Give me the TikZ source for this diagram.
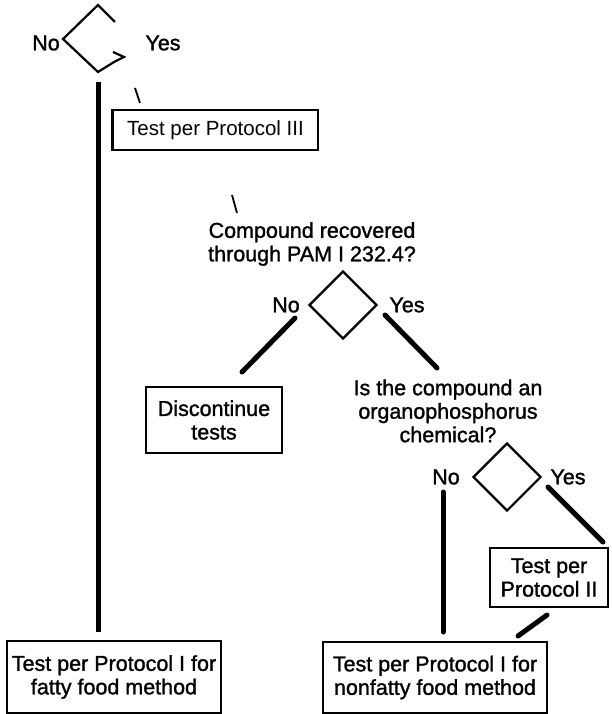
\documentclass[tikz,border=0pt]{standalone}
\usepackage{fontspec}
\setmainfont{Liberation Sans}
\newfontfamily\heavyfont[FakeBold=1.3]{Liberation Sans}
\usetikzlibrary{shapes.geometric}
\tikzset{
  lbl/.style={inner sep=0pt, font=\heavyfont\fontsize{21.5}{23.5}\selectfont, align=center},
  boxnode/.style={draw, line width=1.8pt, inner sep=0pt, align=center, font=\heavyfont\fontsize{21.5}{23.5}\selectfont},
  dia/.style={draw, diamond, line width=2.2pt, minimum width=68pt, minimum height=68pt, inner sep=0pt},
  thick conn/.style={line width=5pt, line cap=round},
  tick/.style={line width=1.8pt}
}
\begin{document}
\begin{tikzpicture}[x=1pt,y=-1pt]
\useasboundingbox (0,0) rectangle (611,714);
% top decision (partly drawn)
\coordinate (d1t) at (98,5);
\coordinate (d1l) at (63,39);
\coordinate (d1b) at (98,72);
\coordinate (d1r) at (115,22);
\coordinate (d1m) at (114,62);
\coordinate (d1tip) at (124,57);
\coordinate (d1v) at (113,52);
\draw[line width=2.2pt, line join=miter] (d1r) -- (d1t) -- (d1l) -- (d1b) -- (d1m) -- (d1tip) -- (d1v);
\node[lbl] (no1) at (46,43) {No};
\node[lbl] (yes1) at (163,43) {Yes};
% box III
\node[boxnode, minimum width=205pt, minimum height=40pt, font=\fontsize{20.5}{22}\selectfont] (p3) at (215.5,130) {Test per Protocol III};
\draw[line width=3pt] (p3.north west) -- (p3.south west);
\coordinate (t1a) at (135,88); \coordinate (t1b) at (140,103);
\draw[tick] (t1a) -- (t1b);
\coordinate (t2a) at (232,195); \coordinate (t2b) at (237,213);
\draw[tick] (t2a) -- (t2b);
% question 2
\node[lbl] (q2) at (312,244) {Compound recovered\\through PAM I 232.4?};
\node[dia] (d2) at (343,305) {};
\node[lbl] (no2) at (286,305) {No};
\node[lbl] (yes2) at (407,305) {Yes};
\node[boxnode, minimum width=136pt, minimum height=66pt] (disc) at (214,420) {Discontinue\\tests};
\coordinate (c2a) at (295,318); \coordinate (c2b) at (242,372);
\draw[thick conn] (c2a) -- (c2b);
\coordinate (c3a) at (385,315); \coordinate (c3b) at (437,368);
\draw[thick conn] (c3a) -- (c3b);
% question 3
\node[lbl] (q3) at (448,411) {Is the compound an\\organophosphorus\\chemical?};
\node[dia] (d3) at (507,477) {};
\node[lbl] (no3) at (446,477) {No};
\node[lbl] (yes3) at (568,477) {Yes};
\node[boxnode, minimum width=118pt, minimum height=59pt] (p2) at (549,577.5) {Test per\\Protocol II};
\coordinate (c4a) at (548,487); \coordinate (c4b) at (603,542);
\draw[thick conn] (c4a) -- (c4b);
% bottom boxes
\node[boxnode, minimum width=214pt, minimum height=72pt] (fat) at (114,677) {Test per Protocol I for\\fatty food method};
\node[boxnode, minimum width=224pt, minimum height=71pt] (nonfat) at (435,677.5) {Test per Protocol I for\\nonfatty food method};
\coordinate (c1a) at (98,82); \coordinate (c1b) at (98,632);
\draw[line width=5pt] (c1a) -- (c1b);
\coordinate (c5a) at (443,492); \coordinate (c5b) at (443,632);
\draw[line width=5pt, line cap=round] (c5a) -- (c5b);
\coordinate (c6a) at (547,615); \coordinate (c6b) at (518,636);
\draw[thick conn] (c6a) -- (c6b);
\end{tikzpicture}
\end{document}
